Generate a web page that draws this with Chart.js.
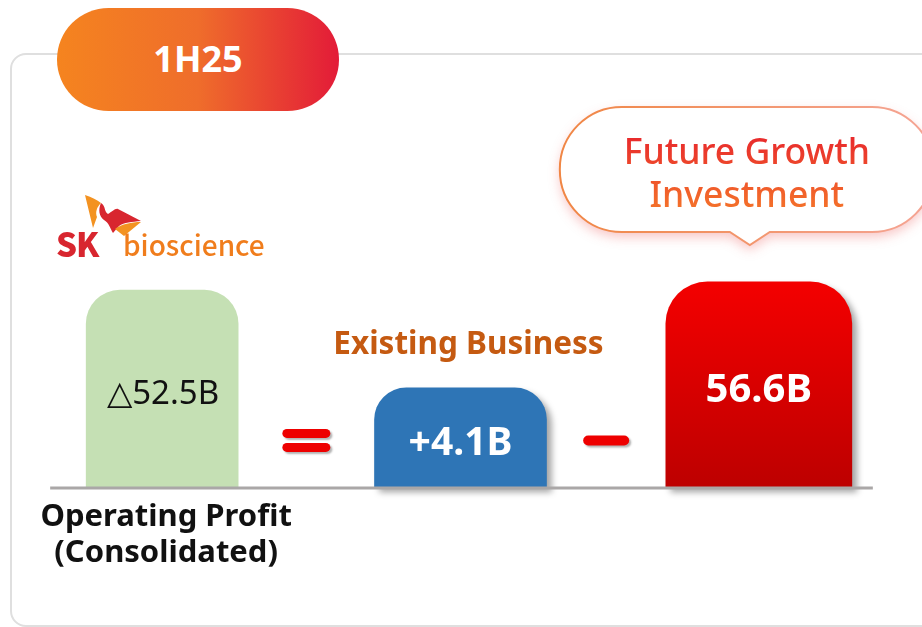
<!DOCTYPE html>
<html>
<head>
<meta charset="utf-8">
<script src="https://cdn.jsdelivr.net/npm/chart.js@4"></script>
<style>
  body { margin: 0; width: 922px; height: 627px; overflow: hidden; background: #fff; font-family: "Noto Sans", sans-serif; }
  .panel { position: absolute; left: 10px; top: 53px; width: 960px; height: 570px; border: 2px solid #dfdfdf; border-radius: 16px; }
  #wrap { position: absolute; left: 0; top: 0; width: 922px; height: 627px; }
  .pill { position: absolute; left: 57px; top: 8px; width: 282px; height: 103px; border-radius: 52px;
          background: linear-gradient(90deg, #f5841f 0%, #ef6d2b 50%, #e31b38 100%);
          color: #fff; font-weight: 700; font-size: 36px; display: flex; align-items: center; justify-content: center; padding-bottom: 2px; box-sizing: border-box; }
  .logo { position: absolute; left: 54px; top: 192px; width: 230px; height: 75px; }
  .logo .sk { position: absolute; left: 2px; top: 27px; font-size: 33px; font-weight: 900; color: #d8262f; letter-spacing: -1px; font-family: "Noto Sans CJK KR", sans-serif; }
  .logo .bio { position: absolute; left: 69px; top: 32px; font-size: 28px; font-weight: 500; color: #f07d1c; font-family: "Noto Sans CJK KR", sans-serif; }
  .logo svg { position: absolute; left: 0; top: 0; }
</style>
</head>
<body>
<div class="panel"></div>
<div id="wrap"><canvas id="chart" width="922" height="627"></canvas></div>
<div class="pill" id="period"></div>
<div class="logo">
  <svg width="100" height="50" viewBox="54 192 100 50">
    <path d="M85,195 C92,197 97,200 101,203 C97,207 95,212 97,217 L93,228 Z" fill="#f39221"/>
    <path d="M101,203 C106,206 104,212 108,214 C112,212 115,208 118,209 L141,221 C132,222 124,222 119,226 L113,233 C110,228 109,223 104,220 C99,216 98,210 101,203 Z" fill="#d8262f"/>
    <path d="M115,229 C122,224 131,222 141,222 L124,236 Z" fill="#f39221"/>
  </svg>
  <span class="sk">SK</span><span class="bio">bioscience</span>
</div>
<script>
const periodLabel = "1H25";
const categories = ["Operating Profit (Consolidated)", "Existing Business", "Future Growth Investment"];
const values = [52.5, 4.1, 56.6];
const valueLabels = ["△52.5B", "+4.1B", "56.6B"];
const operators = ["=", "−"];

document.getElementById("period").textContent = periodLabel;

const FONT = '"Noto Sans", sans-serif';
const Y_MIN = -45;

const barColors = ["#c5e0b4", "#2e75b6", null];
const barWidths = [152, 172, 186];

function redGradient(context) {
    const chart = context.chart;
    if (!chart.chartArea) return "#e00000";
    const y = chart.scales.y;
    const g = chart.ctx.createLinearGradient(0, y.getPixelForValue(values[2]), 0, y.getPixelForValue(Y_MIN));
    g.addColorStop(0, "#f40000");
    g.addColorStop(1, "#bd0000");
    return g;
}

const shadowPlugin = {
    id: "barShadow",
    beforeDatasetDraw(chart, args) {
        const ctx = chart.ctx;
        ctx.save();
        if (args.index > 0) {
            ctx.shadowColor = "rgba(0,0,0,0.35)";
            ctx.shadowOffsetX = 5;
            ctx.shadowOffsetY = 5;
            ctx.shadowBlur = 6;
        }
    },
    afterDatasetDraw(chart) {
        chart.ctx.restore();
    }
};

function roundLine(ctx, x1, x2, y, h) {
    ctx.beginPath();
    ctx.moveTo(x1 + h / 2, y - h / 2);
    ctx.lineTo(x2 - h / 2, y - h / 2);
    ctx.arc(x2 - h / 2, y, h / 2, -Math.PI / 2, Math.PI / 2);
    ctx.lineTo(x1 + h / 2, y + h / 2);
    ctx.arc(x1 + h / 2, y, h / 2, Math.PI / 2, Math.PI * 1.5);
    ctx.closePath();
    ctx.fill();
}

const decorPlugin = {
    id: "decor",
    afterDatasetsDraw(chart) {
        const ctx = chart.ctx;
        const bars = values.map((v, i) => chart.getDatasetMeta(i).data[i]);
        const bottom = bars[0].base;

        // baseline
        ctx.save();
        ctx.strokeStyle = "#aaa7a7";
        ctx.lineWidth = 3;
        ctx.beginPath();
        ctx.moveTo(bars[0].x - bars[0].width / 2 - 36, bottom + 1);
        ctx.lineTo(bars[2].x + bars[2].width / 2 + 21, bottom + 1);
        ctx.stroke();
        ctx.restore();

        // value labels inside bars
        ctx.save();
        ctx.textAlign = "center";
        ctx.textBaseline = "middle";
        bars.forEach((b, i) => {
            const mid = (b.y + b.base) / 2 + 6;
            if (i === 0) {
                ctx.fillStyle = "#111";
                ctx.font = "400 33px " + FONT;
            } else {
                ctx.fillStyle = "#fff";
                ctx.font = "700 " + (i === 1 ? 39 : 40) + "px " + FONT;
            }
            ctx.fillText(valueLabels[i], b.x + (i === 0 ? 1 : 0), mid);
        });
        ctx.restore();

        // operators between bars
        ctx.save();
        ctx.fillStyle = "#ee0000";
        ctx.shadowColor = "rgba(0,0,0,0.3)";
        ctx.shadowOffsetX = 2;
        ctx.shadowOffsetY = 2;
        ctx.shadowBlur = 2;
        const opY = (bars[1].y + bars[1].base) / 2 + 3;
        operators.forEach((op, k) => {
            const left = bars[k].x + bars[k].width / 2;
            const right = bars[k + 1].x - bars[k + 1].width / 2;
            const cx = (left + right) / 2;
            if (op === "=") {
                roundLine(ctx, cx - 24, cx + 24, opY - 7, 9);
                roundLine(ctx, cx - 24, cx + 24, opY + 7, 9);
            } else {
                roundLine(ctx, cx - 23, cx + 23, opY, 10);
            }
        });
        ctx.restore();

        // category 0: below bar
        ctx.save();
        ctx.textAlign = "center";
        ctx.textBaseline = "middle";
        ctx.fillStyle = "#111";
        ctx.font = "700 31px " + FONT;
        const l0 = categories[0].replace(" (", "\n(").split("\n");
        ctx.fillText(l0[0], bars[0].x + 4, bottom + 30);
        ctx.fillText(l0[1], bars[0].x + 4, bottom + 66);

        // category 1: above bar
        ctx.fillStyle = "#c55a11";
        ctx.font = "700 31.5px " + FONT;
        ctx.fillText(categories[1], bars[1].x + 8, bars[1].y - 43);
        ctx.restore();

        // category 2: speech bubble
        const bx = bars[2].x;
        const L = bx - 199, R = bx + 175, T = 107, B = 232, r = 62;
        const tipX = bx - 9;
        ctx.save();
        ctx.beginPath();
        ctx.moveTo(L + r, T);
        ctx.lineTo(R - r, T);
        ctx.arcTo(R, T, R, T + r, r);
        ctx.arcTo(R, B, R - r, B, r);
        ctx.lineTo(tipX + 20, B);
        ctx.lineTo(tipX, B + 13);
        ctx.lineTo(tipX - 20, B);
        ctx.lineTo(L + r, B);
        ctx.arcTo(L, B, L, B - r, r);
        ctx.arcTo(L, T, L + r, T, r);
        ctx.closePath();
        ctx.shadowColor = "rgba(235,90,90,0.35)";
        ctx.shadowBlur = 12;
        ctx.shadowOffsetY = 5;
        ctx.fillStyle = "#fff";
        ctx.fill();
        ctx.shadowColor = "transparent";
        const sg = ctx.createLinearGradient(L, 0, R, 0);
        sg.addColorStop(0, "#f08644");
        sg.addColorStop(1, "#f5a595");
        ctx.strokeStyle = sg;
        ctx.lineWidth = 2;
        ctx.stroke();

        const words = categories[2].split(" ");
        const lines = [words.slice(0, 2).join(" "), words.slice(2).join(" ")];
        ctx.textAlign = "center";
        ctx.textBaseline = "middle";
        ctx.font = "500 35.5px " + FONT;
        const tg = ctx.createLinearGradient(0, 135, 0, 215);
        tg.addColorStop(0, "#e8282c");
        tg.addColorStop(1, "#f5782a");
        ctx.fillStyle = tg;
        ctx.fillText(lines[0], bx - 12, 154);
        ctx.fillText(lines[1], bx - 12, 197);
        ctx.restore();
    }
};

const datasets = values.map((v, i) => ({
    label: categories[i],
    data: values.map((x, j) => (j === i ? x : null)),
    backgroundColor: barColors[i] || redGradient,
    barThickness: barWidths[i],
    borderRadius: [34, 32, 42][i],
    borderSkipped: "start",
    base: Y_MIN,
    clip: false,
}));

new Chart(document.getElementById("chart"), {
    type: "bar",
    data: { labels: categories, datasets: datasets },
    options: {
        responsive: false,
        animation: false,
        events: [],
        layout: { padding: { left: 13, right: 14, top: 63, bottom: 140 } },
        datasets: { bar: { grouped: false } },
        plugins: { legend: { display: false }, tooltip: { enabled: false } },
        scales: {
            x: { display: false },
            y: { display: false, min: Y_MIN, max: 165 },
        },
    },
    plugins: [shadowPlugin, decorPlugin],
});
</script>
</body>
</html>
